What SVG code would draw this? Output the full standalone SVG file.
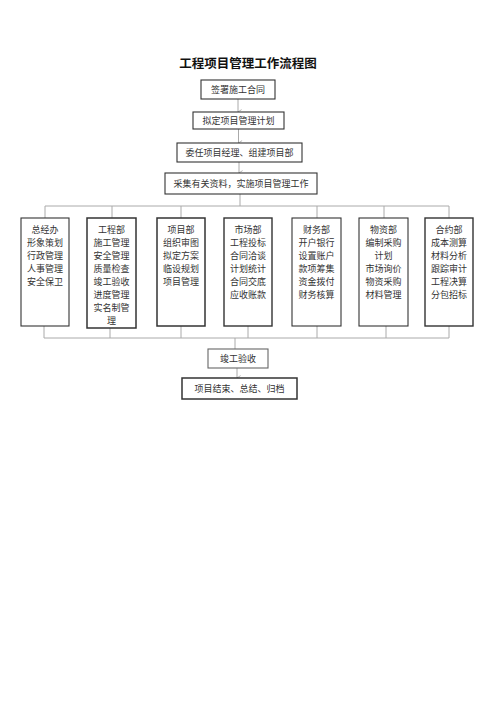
<svg xmlns="http://www.w3.org/2000/svg" width="496" height="702" viewBox="0 0 496 702">
<defs>
<marker id="arr" viewBox="0 0 10 10" refX="5" refY="9" markerWidth="6" markerHeight="6" orient="auto-start-reverse" markerUnits="userSpaceOnUse">
<path d="M1,3 L5,9 L9,3" fill="none" stroke="#999" stroke-width="1.2"/>
</marker>
</defs>
<style>
.box{fill:#fff;stroke:#333;stroke-width:1.1}
.t{font-family:"Liberation Serif","Noto Sans CJK SC",serif;font-size:9px;fill:#333;text-anchor:middle}
.title{font-family:"Liberation Sans","Noto Sans CJK SC",sans-serif;font-size:12.5px;font-weight:bold;fill:#111;text-anchor:middle}
.ln{stroke:#aaa;stroke-width:1;fill:none}
</style>
<rect width="496" height="702" fill="#fff"/>
<text class="title" x="248" y="68">工程项目管理工作流程图</text>

<g id="connectors">
<line class="ln" x1="238" y1="99" x2="238" y2="112" marker-end="url(#arr)"/>
<line class="ln" x1="238.5" y1="129" x2="238.5" y2="143" marker-end="url(#arr)"/>
<line class="ln" x1="239" y1="162" x2="239" y2="173" marker-end="url(#arr)"/>
<line class="ln" x1="240" y1="194" x2="240" y2="206"/>
<polyline class="ln" points="45,218 45,206 449,206 449,218"/>
<line class="ln" x1="112" y1="206" x2="112" y2="218"/>
<line class="ln" x1="181" y1="206" x2="181" y2="218"/>
<line class="ln" x1="317" y1="206" x2="317" y2="218"/>
<line class="ln" x1="384" y1="206" x2="384" y2="218"/>
<polyline class="ln" points="44,326 44,338 449,338 449,326"/>
<line class="ln" x1="110" y1="328" x2="110" y2="338"/>
<line class="ln" x1="181" y1="326" x2="181" y2="338"/>
<line class="ln" x1="248" y1="326" x2="248" y2="338"/>
<line class="ln" x1="317" y1="326" x2="317" y2="338"/>
<line class="ln" x1="386" y1="326" x2="386" y2="338"/>
<line class="ln" x1="235" y1="338" x2="235" y2="349"/>
<line class="ln" x1="237" y1="368" x2="237" y2="378" marker-end="url(#arr)"/>
</g>

<g id="n1"><rect class="box" x="201" y="80" width="74" height="19"/><text class="t" x="238" y="92.5">签署施工合同</text></g>
<g id="n2"><rect class="box" x="193" y="112" width="91" height="17"/><text class="t" x="238.5" y="123.5">拟定项目管理计划</text></g>
<g id="n3"><rect class="box" x="177" y="143" width="125" height="19"/><text class="t" x="239.5" y="155.5">委任项目经理、组建项目部</text></g>
<g id="n4"><rect class="box" x="165" y="173" width="152" height="21"/><text class="t" x="241" y="186.5">采集有关资料，实施项目管理工作</text></g>

<g id="nA"><rect class="box" x="21" y="218" width="48" height="108"/>
<text class="t" x="45" y="233">总经办</text><text class="t" x="45" y="246">形象策划</text><text class="t" x="45" y="259">行政管理</text><text class="t" x="45" y="272">人事管理</text><text class="t" x="45" y="285">安全保卫</text></g>
<g id="nB"><rect class="box" x="87" y="218" width="49" height="110" style="stroke-width:1.5"/>
<text class="t" x="111.5" y="233">工程部</text><text class="t" x="111.5" y="246">施工管理</text><text class="t" x="111.5" y="259">安全管理</text><text class="t" x="111.5" y="272">质量检查</text><text class="t" x="111.5" y="285">竣工验收</text><text class="t" x="111.5" y="298">进度管理</text><text class="t" x="111.5" y="311">实名制管</text><text class="t" x="111.5" y="324">理</text></g>
<g id="nC"><rect class="box" x="157" y="218" width="48" height="108" style="stroke-width:1.5"/>
<text class="t" x="181" y="233">项目部</text><text class="t" x="181" y="246">组织审图</text><text class="t" x="181" y="259">拟定方案</text><text class="t" x="181" y="272">临设规划</text><text class="t" x="181" y="285">项目管理</text></g>
<g id="nD"><rect class="box" x="224" y="218" width="48" height="108" style="stroke-width:1.4"/>
<text class="t" x="248" y="233">市场部</text><text class="t" x="248" y="246">工程投标</text><text class="t" x="248" y="259">合同洽谈</text><text class="t" x="248" y="272">计划统计</text><text class="t" x="248" y="285">合同交底</text><text class="t" x="248" y="298">应收账款</text></g>
<g id="nE"><rect class="box" x="292" y="218" width="49" height="108"/>
<text class="t" x="316.5" y="233">财务部</text><text class="t" x="316.5" y="246">开户银行</text><text class="t" x="316.5" y="259">设置账户</text><text class="t" x="316.5" y="272">款项筹集</text><text class="t" x="316.5" y="285">资金拨付</text><text class="t" x="316.5" y="298">财务核算</text></g>
<g id="nF"><rect class="box" x="359" y="218" width="49" height="108"/>
<text class="t" x="383.5" y="233">物资部</text><text class="t" x="383.5" y="246">编制采购</text><text class="t" x="383.5" y="259">计划</text><text class="t" x="383.5" y="272">市场询价</text><text class="t" x="383.5" y="285">物资采购</text><text class="t" x="383.5" y="298">材料管理</text></g>
<g id="nG"><rect class="box" x="425" y="218" width="48" height="108" style="stroke-width:1.4"/>
<text class="t" x="449" y="233">合约部</text><text class="t" x="449" y="246">成本测算</text><text class="t" x="449" y="259">材料分析</text><text class="t" x="449" y="272">跟踪审计</text><text class="t" x="449" y="285">工程决算</text><text class="t" x="449" y="298">分包招标</text></g>

<g id="n5"><rect class="box" x="208" y="349" width="60" height="19" style="stroke:#666"/><text class="t" x="238" y="361.5">竣工验收</text></g>
<g id="n6"><rect class="box" x="182" y="378" width="115" height="21" style="stroke-width:1.5"/><text class="t" x="239.5" y="392">项目结束、总结、归档</text></g>
</svg>
